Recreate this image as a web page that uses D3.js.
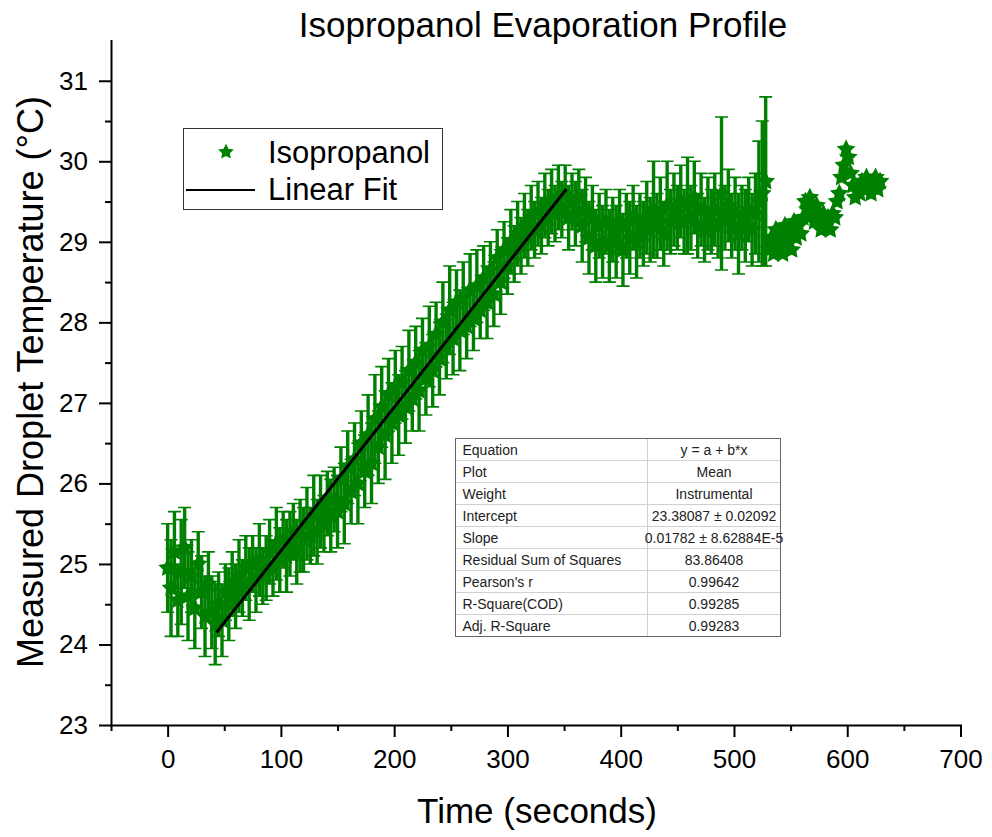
<!DOCTYPE html>
<html>
<head>
<meta charset="utf-8">
<script src="https://cdn.jsdelivr.net/npm/d3@7"></script>
<style>
  body { margin: 0; background: #fff; }
  text { font-family: Arial, "Liberation Sans", sans-serif; fill: #000; }
</style>
</head>
<body>
<svg id="chart" width="992" height="837"></svg>
<script>
// sample times (s) for the points that carry error bars, and for the tail without them
const barTimes = d3.range(0, 529, 3);
const starTimes = d3.range(531, 630, 2);

// mean droplet temperature (°C)
const barMeans = [
  24.95, 24.70, 25.15, 24.55, 24.90, 25.20, 24.60, 24.85, 24.45, 25.00,
  24.65, 24.35, 24.75, 24.40, 24.25, 24.50, 24.30, 24.65, 24.50, 24.75,
  24.60, 24.85, 24.70, 24.95, 24.75, 25.00, 24.80, 25.05, 24.85, 24.95,
  25.15, 24.95, 25.25, 25.05, 25.30, 25.10, 25.25, 25.40, 25.15, 25.35,
  25.30, 25.50, 25.35, 25.60, 25.40, 25.65, 25.50, 25.75, 25.60, 25.80,
  25.65, 26.05, 25.75, 26.20, 25.90, 26.30, 26.00, 26.50, 26.15, 26.60,
  26.25, 26.80, 26.45, 26.95, 26.60, 27.10, 26.75, 27.20, 26.85, 27.25,
  26.95, 27.40, 27.05, 27.50, 27.15, 27.65, 27.30, 27.70, 27.40, 27.85,
  27.55, 28.00, 27.70, 28.15, 27.80, 28.25, 27.90, 28.30, 27.95, 28.40,
  28.05, 28.45, 28.15, 28.55, 28.25, 28.65, 28.35, 28.80, 28.50, 28.90,
  28.70, 29.00, 28.85, 29.10, 28.95, 29.20, 29.05, 29.30, 29.15, 29.35,
  29.20, 29.45, 29.30, 29.50, 29.35, 29.55, 29.40, 29.60, 29.30, 29.50,
  29.35, 29.55, 29.20, 29.40, 29.05, 29.30, 28.95, 29.20, 29.00, 29.25,
  28.95, 29.15, 29.00, 29.25, 28.90, 29.20, 29.05, 29.30, 29.00, 29.20,
  29.10, 29.30, 29.15, 29.40, 29.20, 29.35, 29.10, 29.45, 29.25, 29.40,
  29.30, 29.50, 29.25, 29.45, 29.30, 29.55, 29.20, 29.40, 29.15, 29.35,
  29.25, 29.40, 29.20, 29.60, 29.30, 29.45, 29.20, 29.35, 29.10, 29.30,
  29.20, 29.40, 29.15, 29.35, 29.50, 29.60, 29.75
];

// half-height of each error bar (°C)
const barErrors = [
  0.55, 0.60, 0.50, 0.45, 0.65, 0.50, 0.55, 0.45, 0.50, 0.40,
  0.45, 0.50, 0.40, 0.45, 0.50, 0.40, 0.45, 0.35, 0.45, 0.40,
  0.40, 0.45, 0.35, 0.40, 0.45, 0.35, 0.40, 0.45, 0.35, 0.40,
  0.40, 0.35, 0.45, 0.40, 0.35, 0.45, 0.40, 0.35, 0.40, 0.45,
  0.40, 0.45, 0.35, 0.50, 0.40, 0.45, 0.35, 0.40, 0.45, 0.40,
  0.45, 0.40, 0.50, 0.45, 0.40, 0.45, 0.50, 0.40, 0.45, 0.50,
  0.50, 0.55, 0.45, 0.50, 0.55, 0.45, 0.50, 0.45, 0.50, 0.45,
  0.45, 0.50, 0.40, 0.45, 0.50, 0.40, 0.45, 0.50, 0.45, 0.40,
  0.45, 0.50, 0.40, 0.55, 0.45, 0.40, 0.50, 0.45, 0.40, 0.45,
  0.40, 0.45, 0.35, 0.40, 0.45, 0.35, 0.40, 0.35, 0.40, 0.35,
  0.35, 0.40, 0.35, 0.40, 0.35, 0.40, 0.35, 0.40, 0.35, 0.40,
  0.35, 0.40, 0.35, 0.40, 0.35, 0.40, 0.35, 0.35, 0.40, 0.35,
  0.40, 0.35, 0.45, 0.40, 0.45, 0.40, 0.45, 0.40, 0.45, 0.40,
  0.45, 0.40, 0.45, 0.40, 0.45, 0.40, 0.45, 0.40, 0.45, 0.40,
  0.40, 0.45, 0.40, 0.60, 0.40, 0.45, 0.40, 0.55, 0.40, 0.45,
  0.40, 0.45, 0.40, 0.60, 0.40, 0.45, 0.40, 0.45, 0.40, 0.45,
  0.40, 0.45, 0.40, 0.95, 0.40, 0.45, 0.40, 0.45, 0.50, 0.40,
  0.45, 0.40, 0.45, 0.50, 0.75, 0.90, 1.05
];

// tail of the run, markers only
const starMeans = [
  28.90, 29.05, 28.85, 29.15, 28.95, 29.10, 28.85, 29.20, 29.00, 29.15,
  28.90, 29.25, 29.05, 29.20, 29.10, 29.30, 29.50, 29.40, 29.55, 29.35,
  29.25, 29.45, 29.30, 29.15, 29.35, 29.20, 29.30, 29.15, 29.35, 29.30,
  29.50, 29.60, 29.80, 29.95, 30.15, 30.05, 29.85, 29.70, 29.55, 29.65,
  29.60, 29.75, 29.65, 29.80, 29.70, 29.60, 29.75, 29.80, 29.65, 29.75
];

// linear fit over the heating part
const fitIntercept = 23.38087;
const fitSlope = 0.01782;
const fitStart = 43;
const fitEnd = 352;

const tableRows = [
  ["Equation", "y = a + b*x"],
  ["Plot", "Mean"],
  ["Weight", "Instrumental"],
  ["Intercept", "23.38087 \u00b1 0.02092"],
  ["Slope", "0.01782 \u00b1 8.62884E-5"],
  ["Residual Sum of Squares", "83.86408"],
  ["Pearson's r", "0.99642"],
  ["R-Square(COD)", "0.99285"],
  ["Adj. R-Square", "0.99283"]
];

const xTicks = [0, 100, 200, 300, 400, 500, 600, 700];
const xMinor = [-50, 50, 150, 250, 350, 450, 550, 650];
const yTicks = [23, 24, 25, 26, 27, 28, 29, 30, 31];
const yMinor = [23.5, 24.5, 25.5, 26.5, 27.5, 28.5, 29.5, 30.5];

const green = "#008000";
const svg = d3.select("#chart");

const x = d3.scaleLinear().domain([-50, 700]).range([111, 960.5]);
const y = d3.scaleLinear().domain([23, 31.5]).range([725, 40.5]);

// a plumper five-point star than d3.symbolStar, closer to Origin's marker
const fatStar = {
  draw(context, size) {
    const r = Math.sqrt(size) / 1.6;
    const ri = r * 0.5;
    for (let k = 0; k < 10; k++) {
      const a = -Math.PI / 2 + k * Math.PI / 5;
      const rr = k % 2 ? ri : r;
      if (k === 0) context.moveTo(rr * Math.cos(a), rr * Math.sin(a));
      else context.lineTo(rr * Math.cos(a), rr * Math.sin(a));
    }
    context.closePath();
  }
};

// ---- data: error bars then star markers
const barData = barTimes.map((t, i) => ({ t: t, m: barMeans[i], e: barErrors[i] }));
const starData = starTimes.map((t, i) => ({ t: t, m: starMeans[i] }));

const bars = svg.append("g").attr("stroke", green).attr("fill", "none");

bars.selectAll(".stem")
  .data(barData)
  .enter()
  .append("line")
  .attr("class", "stem")
  .attr("x1", d => x(d.t)).attr("x2", d => x(d.t))
  .attr("y1", d => y(d.m - d.e)).attr("y2", d => y(d.m + d.e))
  .attr("stroke-width", 3.4);

bars.selectAll(".cap")
  .data(barData)
  .enter()
  .append("path")
  .attr("class", "cap")
  .attr("stroke-width", 1.6)
  .attr("d", d => {
    const cx = x(d.t), y0 = y(d.m - d.e), y1 = y(d.m + d.e);
    return `M${cx - 6.5},${y0}H${cx + 6.5}M${cx - 6.5},${y1}H${cx + 6.5}`;
  });

const star = d3.symbol().type(fatStar).size(250);

svg.append("g")
  .attr("fill", green)
  .selectAll("path")
  .data(barData.concat(starData))
  .enter()
  .append("path")
  .attr("transform", d => `translate(${x(d.t)},${y(d.m)})`)
  .attr("d", star);

// fit line
svg.append("line")
  .attr("x1", x(fitStart))
  .attr("y1", y(fitIntercept + fitSlope * fitStart))
  .attr("x2", x(fitEnd))
  .attr("y2", y(fitIntercept + fitSlope * fitEnd))
  .attr("stroke", "#000")
  .attr("stroke-width", 3);

// ---- axes
svg.append("g")
  .attr("transform", "translate(0,725)")
  .call(d3.axisBottom(x).tickValues(xTicks).tickSize(12).tickSizeOuter(0).tickPadding(13));
svg.append("g")
  .attr("transform", "translate(0,725)")
  .call(d3.axisBottom(x).tickValues(xMinor).tickSize(6).tickFormat("").tickSizeOuter(0))
  .select(".domain").remove();

svg.append("g")
  .attr("transform", "translate(111,0)")
  .call(d3.axisLeft(y).tickValues(yTicks).tickSize(12).tickSizeOuter(0).tickPadding(11));
svg.append("g")
  .attr("transform", "translate(111,0)")
  .call(d3.axisLeft(y).tickValues(yMinor).tickSize(6).tickFormat("").tickSizeOuter(0))
  .select(".domain").remove();

svg.selectAll(".domain").attr("stroke-width", 2).attr("stroke-linecap", "square");
svg.selectAll(".tick line").attr("stroke-width", 2);
svg.selectAll(".tick text")
  .style("font-family", "Arial, 'Liberation Sans', sans-serif")
  .style("font-size", "26px");

// ---- titles
svg.append("text")
  .attr("x", 543)
  .attr("y", 37)
  .attr("text-anchor", "middle")
  .style("font-size", "35px")
  .text("Isopropanol Evaporation Profile");

svg.append("text")
  .attr("x", 537)
  .attr("y", 823)
  .attr("text-anchor", "middle")
  .style("font-size", "35px")
  .text("Time (seconds)");

svg.append("text")
  .attr("transform", "translate(43,382) rotate(-90)")
  .attr("text-anchor", "middle")
  .style("font-size", "36px")
  .text("Measured Droplet Temperature (\u00b0C)");

// ---- legend
const legend = svg.append("g");
legend.append("rect")
  .attr("x", 183.5).attr("y", 128.5)
  .attr("width", 259).attr("height", 81)
  .attr("fill", "#fff").attr("stroke", "#333").attr("stroke-width", 1);
legend.append("path")
  .attr("transform", "translate(226,152)")
  .attr("fill", green)
  .attr("d", d3.symbol().type(fatStar).size(170));
legend.append("text").attr("x", 268).attr("y", 163).style("font-size", "31px").text("Isopropanol");
legend.append("line")
  .attr("x1", 186).attr("x2", 255).attr("y1", 190).attr("y2", 190)
  .attr("stroke", "#000").attr("stroke-width", 2);
legend.append("text").attr("x", 268).attr("y", 200).style("font-size", "31px").text("Linear Fit");

// ---- fit parameter table
const tbl = { x: 455.5, y: 438.5, rowH: 22, col1: 192, col2: 133 };
const table = svg.append("g");
table.append("rect")
  .attr("x", tbl.x).attr("y", tbl.y)
  .attr("width", tbl.col1 + tbl.col2).attr("height", tbl.rowH * tableRows.length)
  .attr("fill", "#fff");

table.selectAll(".row-line")
  .data(d3.range(1, tableRows.length))
  .enter()
  .append("line")
  .attr("x1", tbl.x).attr("x2", tbl.x + tbl.col1 + tbl.col2)
  .attr("y1", i => tbl.y + i * tbl.rowH).attr("y2", i => tbl.y + i * tbl.rowH)
  .attr("stroke", "#d0d0d0");
table.append("line")
  .attr("x1", tbl.x + tbl.col1).attr("x2", tbl.x + tbl.col1)
  .attr("y1", tbl.y).attr("y2", tbl.y + tbl.rowH * tableRows.length)
  .attr("stroke", "#d0d0d0");
table.append("rect")
  .attr("x", tbl.x).attr("y", tbl.y)
  .attr("width", tbl.col1 + tbl.col2).attr("height", tbl.rowH * tableRows.length)
  .attr("fill", "none").attr("stroke", "#666");

const rows = table.selectAll(".row")
  .data(tableRows)
  .enter()
  .append("g")
  .attr("transform", (d, i) => `translate(0,${tbl.y + i * tbl.rowH + 16})`);
rows.append("text")
  .attr("x", tbl.x + 7)
  .style("font-size", "14px")
  .style("fill", "#222")
  .text(d => d[0]);
rows.append("text")
  .attr("x", tbl.x + tbl.col1 + tbl.col2 / 2)
  .attr("text-anchor", "middle")
  .style("font-size", "14px")
  .style("fill", "#222")
  .text(d => d[1]);
</script>
</body>
</html>
